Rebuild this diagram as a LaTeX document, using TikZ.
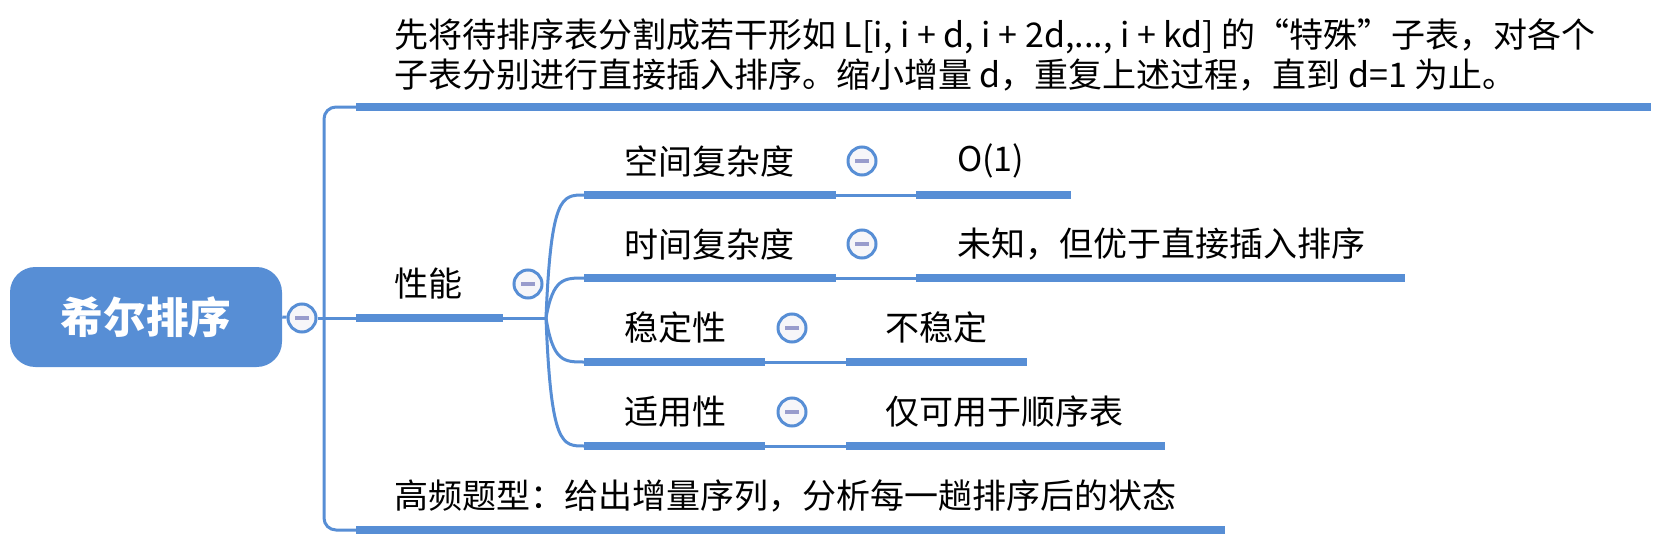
\documentclass[tikz,border=0pt]{standalone}
\usepackage{fontspec}
\newfontfamily\hei{Noto Sans CJK SC}
\usepackage{tikz}
\usetikzlibrary{positioning}

\definecolor{mapblue}{RGB}{87,142,213}
\definecolor{knobfill}{RGB}{246,246,249}
\definecolor{knobminus}{RGB}{152,156,204}
\newcommand{\foldmark}{\textcolor{knobminus}{\rule[-1.2pt]{10pt}{2.4pt}}}
\newcommand{\cjkgap}{\hspace{0.22em}}

\begin{document}
\begin{tikzpicture}[x=0.75pt,y=0.75pt,yscale=-1,xscale=1,
    topic/.style={anchor=west,inner sep=0.75pt,font=\hei\fontsize{25.5}{30}\selectfont},
    uline/.style={draw=mapblue,line width=6pt},
    link/.style={draw=mapblue,line width=2.25pt},
    knob/.style={circle,draw=mapblue,fill=knobfill,line width=2.25pt,minimum size=21pt,inner sep=0pt},
    rootbox/.style={rectangle,rounded corners=19pt,fill=mapblue,text=white,minimum width=204pt,
        minimum height=75pt,font=\hei\bfseries\fontsize{32}{36}\selectfont}]
        \useasboundingbox (0,0) rectangle (1667,546);

        % Root
        \node [rootbox] (root) at (146,317) {希尔排序};
        \node [knob] (k0) at (302,318) {\foldmark};
        \draw [link] (root.east) -- (k0);

        % Description
        \node [topic,align=left] (desc) at (393,55) {先将待排序表分割成若干形如 L[i, i + d, i + 2d,..., i + kd] 的“特殊”子表，对各个\\子表分别进行直接插入排序。缩小增量\cjkgap d，重复上述过程，直到\cjkgap d=1\cjkgap 为止。};
        \coordinate (descL) at (356,107);
        \coordinate (descR) at (1651,107);
        \draw [uline] (descL) -- (descR);

        % Performance
        \node [topic] (perf) at (393,284) {性能};
        \node [knob] (k1) at (528,284) {\foldmark};
        \coordinate (perfL) at (356,318);
        \coordinate (perfR) at (503,318);
        \coordinate (fork) at (546,318);
        \draw [uline] (perfL) -- (perfR);
        \draw [link] (k0.east) -- (perfL);
        \draw [link] (perfR) -- (fork);

        % Frequent question
        \node [topic] (freq) at (393,496) {高频题型：给出增量序列，分析每一趟排序后的状态};
        \coordinate (freqL) at (356,530);
        \coordinate (freqR) at (1225,530);
        \draw [uline] (freqL) -- (freqR);

        % Trunk
        \draw [link,rounded corners=9pt] (descL) -- (324,107) -- (324,530) -- (freqL);

        % Space complexity
        \node [topic] (space) at (623,161) {空间复杂度};
        \node [knob] (k2) at (862,161) {\foldmark};
        \coordinate (spaceL) at (584,195);
        \coordinate (spaceR) at (836,195);
        \draw [uline] (spaceL) -- (spaceR);
        \draw [link] (fork) .. controls (551,195) and (562,195) .. (spaceL);
        \node [topic] (spaceV) at (956,161) {O(1)};
        \coordinate (spaceVL) at (916,195);
        \coordinate (spaceVR) at (1071,195);
        \draw [link] (spaceR) -- (spaceVL);
        \draw [uline] (spaceVL) -- (spaceVR);

        % Time complexity
        \node [topic] (time) at (623,244) {时间复杂度};
        \node [knob] (k3) at (862,244) {\foldmark};
        \coordinate (timeL) at (584,278);
        \coordinate (timeR) at (836,278);
        \draw [uline] (timeL) -- (timeR);
        \draw [link] (fork) .. controls (553,278) and (564,278) .. (timeL);
        \node [topic] (timeV) at (956,244) {未知，但优于直接插入排序};
        \coordinate (timeVL) at (916,278);
        \coordinate (timeVR) at (1405,278);
        \draw [link] (timeR) -- (timeVL);
        \draw [uline] (timeVL) -- (timeVR);

        % Stability
        \node [topic] (stab) at (623,328) {稳定性};
        \node [knob] (k4) at (792,328) {\foldmark};
        \coordinate (stabL) at (584,362);
        \coordinate (stabR) at (765,362);
        \draw [uline] (stabL) -- (stabR);
        \draw [link] (fork) .. controls (553,362) and (564,362) .. (stabL);
        \node [topic] (stabV) at (884,328) {不稳定};
        \coordinate (stabVL) at (846,362);
        \coordinate (stabVR) at (1027,362);
        \draw [link] (stabR) -- (stabVL);
        \draw [uline] (stabVL) -- (stabVR);

        % Applicability
        \node [topic] (use) at (623,412) {适用性};
        \node [knob] (k5) at (792,412) {\foldmark};
        \coordinate (useL) at (584,446);
        \coordinate (useR) at (765,446);
        \draw [uline] (useL) -- (useR);
        \draw [link] (fork) .. controls (551,446) and (562,446) .. (useL);
        \node [topic] (useV) at (884,412) {仅可用于顺序表};
        \coordinate (useVL) at (846,446);
        \coordinate (useVR) at (1165,446);
        \draw [link] (useR) -- (useVL);
        \draw [uline] (useVL) -- (useVR);

\end{tikzpicture}
\end{document}
